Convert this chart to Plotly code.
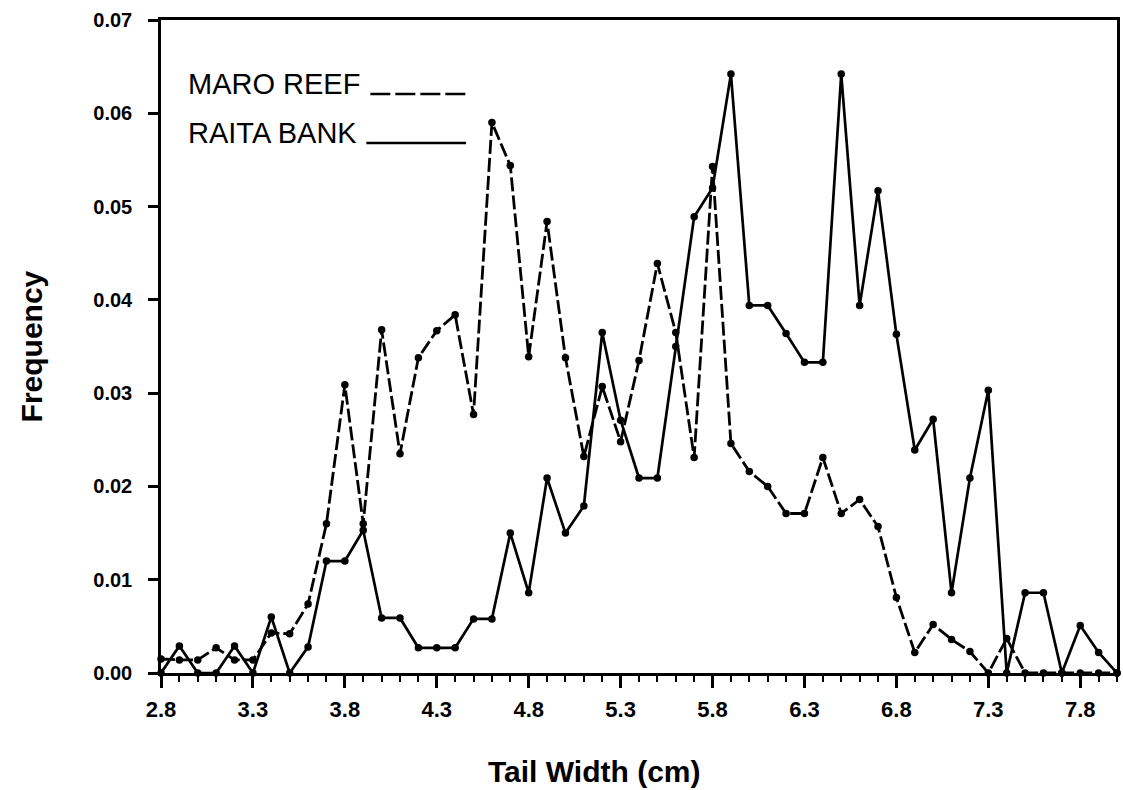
import plotly.graph_objects as go

# ---- data ----
tail_width = [round(2.8 + 0.1 * i, 1) for i in range(53)]  # 2.8 ... 8.0 cm

raita_bank = [0, 0.0029, 0, 0, 0.0029, 0, 0.006, 0, 0.0028, 0.012,
              0.012, 0.0153, 0.0059, 0.0059, 0.0027, 0.0027, 0.0027, 0.0058, 0.0058, 0.015,
              0.0086, 0.0209, 0.015, 0.0179, 0.0365, 0.0271, 0.0209, 0.0209, 0.035, 0.0489,
              0.052, 0.0642, 0.0394, 0.0394, 0.0364, 0.0333, 0.0333, 0.0642, 0.0394, 0.0517,
              0.0363, 0.0239, 0.0272, 0.0086, 0.0209, 0.0303, 0, 0.0086, 0.0086, 0,
              0.0051, 0.0022, 0]

maro_reef = [0.0015, 0.0014, 0.0014, 0.0027, 0.0014, 0.0014, 0.0043, 0.0042, 0.0074, 0.016,
             0.0309, 0.016, 0.0368, 0.0235, 0.0338, 0.0367, 0.0384, 0.0277, 0.059, 0.0544,
             0.0339, 0.0484, 0.0338, 0.0232, 0.0307, 0.0248, 0.0335, 0.0439, 0.0365, 0.0231,
             0.0543, 0.0246, 0.0216, 0.0200, 0.0171, 0.0171, 0.0231, 0.0171, 0.0186, 0.0157,
             0.0081, 0.0022, 0.0052, 0.0036, 0.0023, 0, 0.0037, 0, 0, 0,
             0, 0, 0]

x_tick_vals = [2.8, 3.3, 3.8, 4.3, 4.8, 5.3, 5.8, 6.3, 6.8, 7.3, 7.8]
x_tick_text = ["2.8", "3.3", "3.8", "4.3", "4.8", "5.3", "5.8", "6.3", "6.8", "7.3", "7.8"]
y_tick_vals = [0, 0.01, 0.02, 0.03, 0.04, 0.05, 0.06, 0.07]
y_tick_text = ["0.00", "0.01", "0.02", "0.03", "0.04", "0.05", "0.06", "0.07"]

series_names = ["MARO REEF", "RAITA BANK"]

# ---- figure ----
fig = go.Figure()
fig.add_trace(go.Scatter(
    x=tail_width, y=maro_reef, name=series_names[0], mode="lines+markers",
    line=dict(color="black", width=2.8, dash="14px,4px"),
    marker=dict(color="black", size=7.5), cliponaxis=False))
fig.add_trace(go.Scatter(
    x=tail_width, y=raita_bank, name=series_names[1], mode="lines+markers",
    line=dict(color="black", width=2.7),
    marker=dict(color="black", size=7.5), cliponaxis=False))

L, R, T, B = 161, 3, 20, 117
W, H = 1123, 790
pw, ph = W - L - R, H - T - B

def px(xp):
    return (xp - L) / pw

def py(yp):
    return (H - B - yp) / ph

FAM = "Liberation Sans, Arial, sans-serif"

fig.update_layout(
    width=W, height=H,
    margin=dict(l=L, r=R, t=T, b=B, pad=0),
    paper_bgcolor="white", plot_bgcolor="white",
    showlegend=False,
    font=dict(family=FAM, color="black"),
)

fig.update_xaxes(
    range=[2.8, 8.0], showgrid=False, zeroline=False,
    showline=True, linecolor="black", linewidth=2.5, mirror=True,
    tickmode="array", tickvals=x_tick_vals, ticktext=x_tick_text,
    ticks="outside", ticklen=12, tickwidth=2.5, tickcolor="black",
    ticklabelstandoff=3,
    tickfont=dict(family=FAM, size=22, color="black", weight="bold"),
    minor=dict(ticks="outside", ticklen=6, tickwidth=2, tickcolor="black",
               tick0=2.8, dtick=0.1, showgrid=False),
)
fig.update_yaxes(
    range=[0, 0.07], showgrid=False, zeroline=False,
    showline=True, linecolor="black", linewidth=2.5, mirror=True,
    tickmode="array", tickvals=y_tick_vals, ticktext=y_tick_text,
    ticks="outside", ticklen=10, tickwidth=2.5, tickcolor="black",
    ticklabelstandoff=12,
    tickfont=dict(family=FAM, size=20, color="black", weight="bold"),
)

# axis titles
fig.add_annotation(text="<b>Frequency</b>", xref="paper", yref="paper",
                   x=px(31), y=py(346), textangle=-90, showarrow=False,
                   xanchor="center", yanchor="middle",
                   font=dict(size=30, color="black"))
fig.add_annotation(text="<b>Tail Width (cm)</b>", xref="paper", yref="paper",
                   x=px(596), y=py(771), showarrow=False,
                   xanchor="center", yanchor="middle",
                   font=dict(size=30, color="black"))

# legend (text + sample lines)
fig.add_annotation(text=series_names[0], xref="paper", yref="paper",
                   x=px(186), y=py(84), showarrow=False,
                   xanchor="left", yanchor="middle", font=dict(size=29, color="black"))
fig.add_annotation(text=series_names[1], xref="paper", yref="paper",
                   x=px(186), y=py(133), showarrow=False,
                   xanchor="left", yanchor="middle", font=dict(size=29, color="black"))
fig.add_shape(type="line", xref="paper", yref="paper",
              x0=px(371), x1=px(467), y0=py(94), y1=py(94),
              line=dict(color="black", width=2.5, dash="20px,5px"))
fig.add_shape(type="line", xref="paper", yref="paper",
              x0=px(367), x1=px(467), y0=py(143), y1=py(143),
              line=dict(color="black", width=2.5))

fig.write_html(
    "out.html",
    config={"displayModeBar": False},
    post_script="document.body.style.margin='0';document.body.style.overflow='hidden';",
)
